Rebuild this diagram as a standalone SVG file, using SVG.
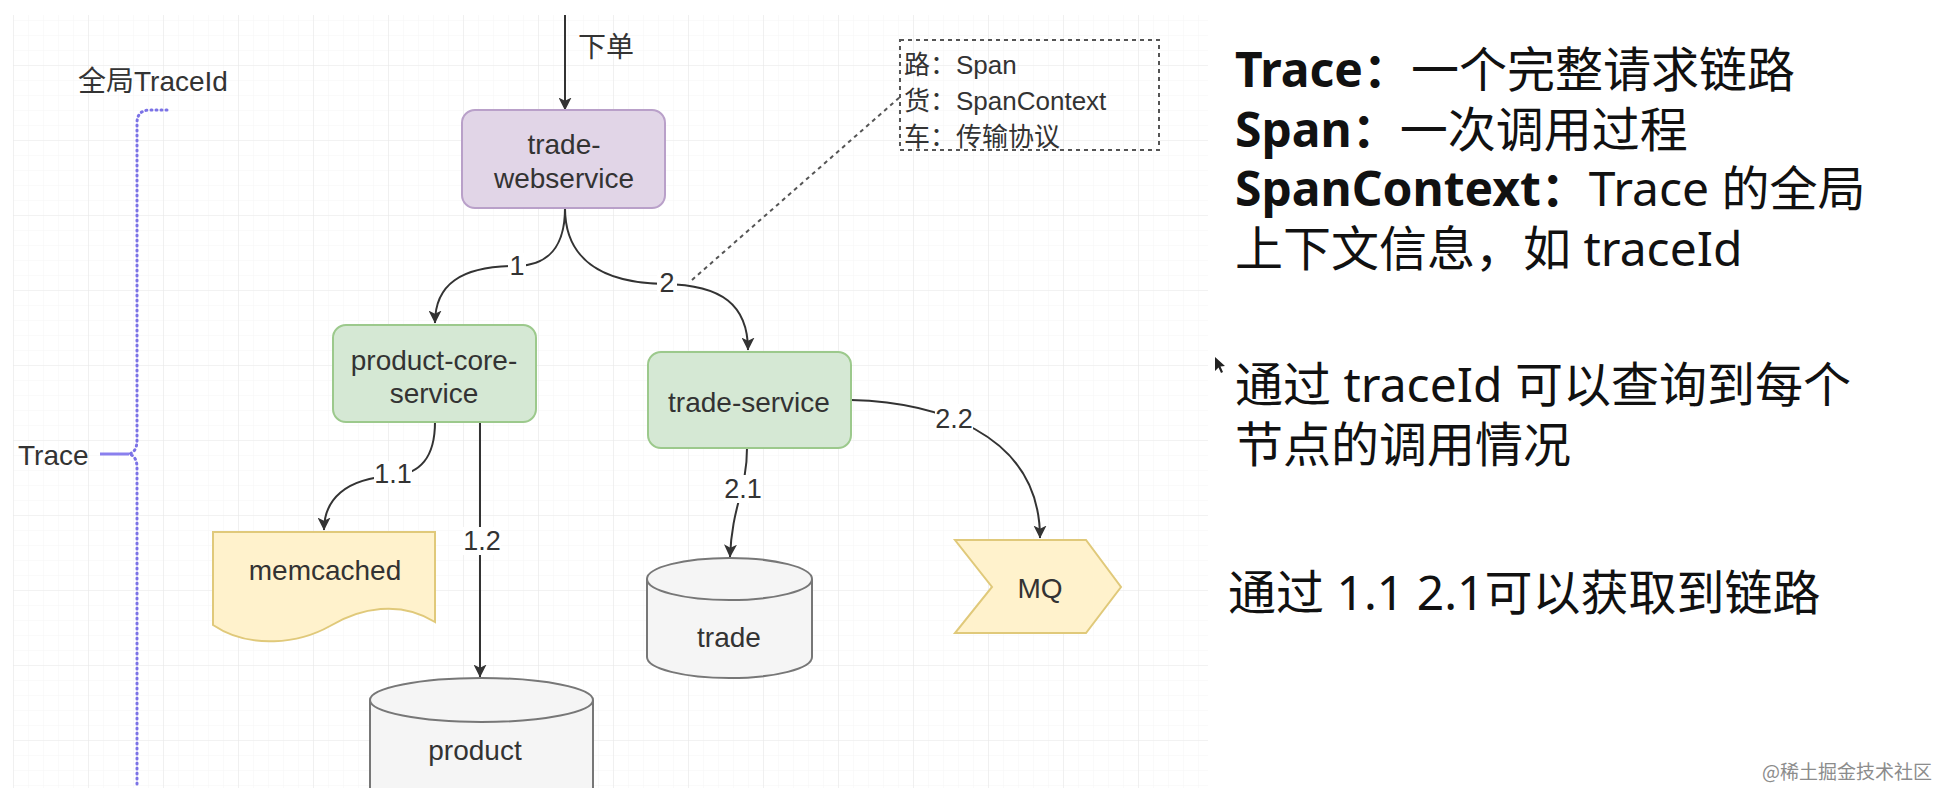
<svg xmlns="http://www.w3.org/2000/svg" width="1938" height="788" viewBox="0 0 1938 788">
<defs>
<pattern id="minor" width="15" height="15" patternUnits="userSpaceOnUse" x="13" y="5"><path d="M15 0H0V15" fill="none" stroke="#f5f5f5" stroke-width="1"/></pattern>
<pattern id="major" width="75" height="75" patternUnits="userSpaceOnUse" x="13" y="-10"><path d="M75 0H0V75" fill="none" stroke="#e9e9e9" stroke-width="1.2"/></pattern>
<marker id="arr" viewBox="0 0 12 12" refX="11.5" refY="6" markerWidth="13" markerHeight="13" markerUnits="userSpaceOnUse" orient="auto"><path d="M0,0 L12,6 L0,12 L3,6 Z" fill="#333"/></marker>
<style>
.t{font-family:"Liberation Sans","Noto Sans CJK SC",sans-serif;font-size:28px;fill:#333}
.n{font-family:"Liberation Sans","Noto Sans CJK SC",sans-serif;font-size:26px;fill:#333}
.c{text-anchor:middle}
.edge{fill:none;stroke:#333;stroke-width:2}
.lbl{font-family:"Liberation Sans",sans-serif;font-size:27px;fill:#333;text-anchor:middle}
.bg{fill:#fff}
.svc{fill:#d5e8d4;stroke:#9cc98c;stroke-width:2}
.db{fill:#f5f5f5;stroke:#777;stroke-width:2}
.yel{fill:#fff2cc;stroke:#e0c97a;stroke-width:2}
.r{font-family:"Noto Sans","Noto Sans CJK SC",sans-serif;font-size:48px;fill:#111}
.brace{fill:none;stroke:#7b72e6;stroke-width:3;stroke-dasharray:1 4;stroke-linecap:round}
</style>
</defs>
<rect width="1938" height="788" fill="#fff"/>
<rect x="13" y="15" width="1195" height="773" fill="url(#minor)"/>
<rect x="13" y="15" width="1195" height="773" fill="url(#major)"/>

<g id="brace">
<path class="brace" d="M167,110 H150 Q137,110 137,123 V440 Q137,452 129,454 Q137,456 137,468 V788"/>
<path d="M100,454 H129" stroke="#8a80ee" stroke-width="3" fill="none"/>
<text class="t" x="18" y="465">Trace</text>
<text class="t" x="78" y="91">全局TraceId</text>
</g>

<g id="connectors">
<path class="edge" d="M565,15 V110" marker-end="url(#arr)"/>
<path class="edge" d="M565,208 C565,248 548,265 517,266 C460,266 435,285 435,323" marker-end="url(#arr)"/>
<path class="edge" d="M565,208 C565,258 600,283 665,284 C722,285 748,305 748,350" marker-end="url(#arr)"/>
<path d="M692,280 L900,97" fill="none" stroke="#555" stroke-width="2" stroke-dasharray="4 4"/>
<path class="edge" d="M435,422 C435,458 420,474 393,476 C345,478 324,500 324,530" marker-end="url(#arr)"/>
<path class="edge" d="M480,422 V677" marker-end="url(#arr)"/>
<path class="edge" d="M747,448 C747,490 732,505 730,557" marker-end="url(#arr)"/>
<path class="edge" d="M851,400 C930,402 1040,430 1040,538" marker-end="url(#arr)"/>
<rect class="bg" x="508" y="253" width="18" height="26"/>
<text class="lbl" x="517" y="275">1</text>
<rect class="bg" x="657" y="270" width="20" height="26"/>
<text class="lbl" x="667" y="292">2</text>
<rect class="bg" x="374" y="461" width="38" height="26"/>
<text class="lbl" x="393" y="483">1.1</text>
<rect class="bg" x="463" y="527" width="38" height="28"/>
<text class="lbl" x="482" y="550">1.2</text>
<rect class="bg" x="724" y="475" width="38" height="28"/>
<text class="lbl" x="743" y="498">2.1</text>
<rect class="bg" x="935" y="404" width="38" height="28"/>
<text class="lbl" x="954" y="428">2.2</text>
<text class="t" x="578" y="57">下单</text>
</g>

<g id="note">
<rect x="900" y="40" width="259" height="110" fill="none" stroke="#555" stroke-width="2" stroke-dasharray="4 4"/>
<text class="n" x="904" y="74">路：Span</text>
<text class="n" x="904" y="110">货：SpanContext</text>
<text class="n" x="904" y="146">车：传输协议</text>
</g>

<g id="trade-webservice">
<rect x="462" y="110" width="203" height="98" rx="13" fill="#e1d5e7" stroke="#b9a0c9" stroke-width="2"/>
<text class="t c" x="564" y="154">trade-</text>
<text class="t c" x="564" y="188">webservice</text>
</g>

<g id="product-core-service">
<rect class="svc" x="333" y="325" width="203" height="97" rx="13"/>
<text class="t c" x="434" y="370">product-core-</text>
<text class="t c" x="434" y="403">service</text>
</g>

<g id="trade-service">
<rect class="svc" x="648" y="352" width="203" height="96" rx="13"/>
<text class="t c" x="749" y="412">trade-service</text>
</g>

<g id="memcached">
<path class="yel" d="M213,532 H435 V622 C400,600 360,608 330,626 C300,643 250,650 213,625 Z"/>
<text class="t c" x="325" y="580">memcached</text>
</g>

<g id="product">
<path class="db" d="M370,700 A111.5,22 0 0 1 593,700 V830 A111.5,22 0 0 1 370,830 Z"/>
<path class="db" d="M370,700 A111.5,22 0 0 0 593,700" fill="none"/>
<text class="t c" x="475" y="760">product</text>
</g>

<g id="trade">
<path class="db" d="M647,579 A82.5,21 0 0 1 812,579 V657 A82.5,21 0 0 1 647,657 Z"/>
<path class="db" d="M647,579 A82.5,21 0 0 0 812,579" fill="none"/>
<text class="t c" x="729" y="647">trade</text>
</g>

<g id="mq">
<polygon class="yel" points="955,540 1086,540 1121,587 1086,633 955,633 992,587"/>
<text class="t c" x="1040" y="598">MQ</text>
</g>

<g id="explanation">
<text class="r" x="1235" y="87"><tspan font-weight="bold">Trace：</tspan>一个完整请求链路</text>
<text class="r" x="1235" y="147"><tspan font-weight="bold">Span：</tspan>一次调用过程</text>
<text class="r" x="1235" y="206"><tspan font-weight="bold">SpanContext：</tspan>Trace 的全局</text>
<text class="r" x="1235" y="266">上下文信息，如 traceId</text>
<polygon points="1215,357 1215,371 1218.5,367.5 1221,373 1223,372 1220.5,366.5 1225,366" fill="#222"/>
<text class="r" x="1235" y="402">通过 traceId 可以查询到每个</text>
<text class="r" x="1235" y="462">节点的调用情况</text>
<text class="r" x="1228" y="610">通过 1.1 2.1可以获取到链路</text>
</g>

<text x="1932" y="779" text-anchor="end" font-family="'Noto Sans CJK SC',sans-serif" font-size="19" fill="#8c8c8c">@稀土掘金技术社区</text>
</svg>
